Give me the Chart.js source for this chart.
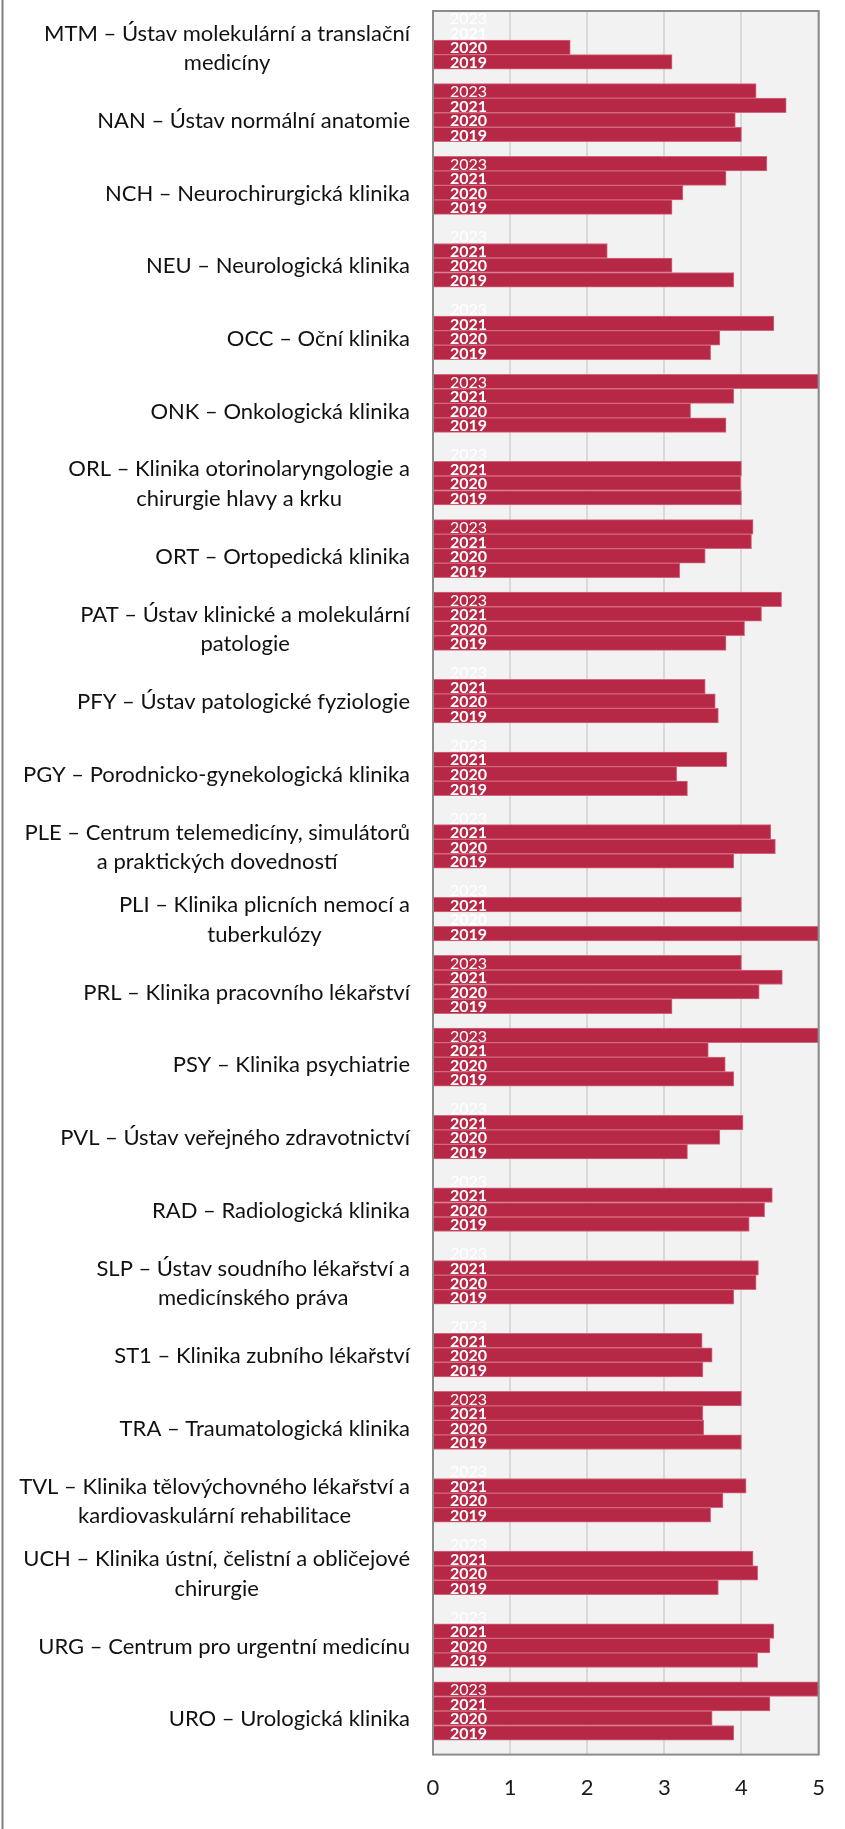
<!DOCTYPE html>
<html>
<head>
<meta charset="utf-8">
<script src="https://cdn.jsdelivr.net/npm/chart.js@4/dist/chart.umd.min.js"></script>
<style>
html,body{margin:0;padding:0;background:#fff;}
canvas{display:block;}
</style>
</head>
<body>
<canvas id="c" width="845" height="1829"></canvas>
<script>
const categories = [
  ['MTM – Ústav molekulární a translační', 'medicíny'],
  ['NAN – Ústav normální anatomie'],
  ['NCH – Neurochirurgická klinika'],
  ['NEU – Neurologická klinika'],
  ['OCC – Oční klinika'],
  ['ONK – Onkologická klinika'],
  ['ORL – Klinika otorinolaryngologie a', 'chirurgie hlavy a krku'],
  ['ORT – Ortopedická klinika'],
  ['PAT – Ústav klinické a molekulární', 'patologie'],
  ['PFY – Ústav patologické fyziologie'],
  ['PGY – Porodnicko-gynekologická klinika'],
  ['PLE – Centrum telemedicíny, simulátorů', 'a praktických dovedností'],
  ['PLI – Klinika plicních nemocí a', 'tuberkulózy'],
  ['PRL – Klinika pracovního lékařství'],
  ['PSY – Klinika psychiatrie'],
  ['PVL – Ústav veřejného zdravotnictví'],
  ['RAD – Radiologická klinika'],
  ['SLP – Ústav soudního lékařství a', 'medicínského práva'],
  ['ST1 – Klinika zubního lékařství'],
  ['TRA – Traumatologická klinika'],
  ['TVL – Klinika tělovýchovného lékařství a', 'kardiovaskulární rehabilitace'],
  ['UCH – Klinika ústní, čelistní a obličejové', 'chirurgie'],
  ['URG – Centrum pro urgentní medicínu'],
  ['URO – Urologická klinika']
];

const years = ['2023', '2021', '2020', '2019'];

const values2023 = [null, 4.19, 4.33, null, null, 5.00, null, 4.15, 4.52, null, null, null,
                    null, 4.00, 5.00, null, null, null, null, 4.00, null, null, null, 5.00];
const values2021 = [null, 4.58, 3.80, 2.26, 4.42, 3.90, 4.00, 4.13, 4.26, 3.53, 3.81, 4.38,
                    4.00, 4.53, 3.57, 4.02, 4.40, 4.22, 3.49, 3.50, 4.06, 4.15, 4.42, 4.37];
const values2020 = [1.78, 3.92, 3.24, 3.10, 3.72, 3.34, 3.99, 3.53, 4.04, 3.66, 3.16, 4.44,
                    null, 4.23, 3.79, 3.72, 4.30, 4.19, 3.62, 3.51, 3.76, 4.21, 4.37, 3.62];
const values2019 = [3.10, 4.00, 3.10, 3.90, 3.60, 3.80, 4.00, 3.20, 3.80, 3.70, 3.30, 3.90,
                    5.00, 3.10, 3.90, 3.30, 4.10, 3.90, 3.50, 4.00, 3.60, 3.70, 4.21, 3.90];
const spacer = categories.map(() => null);

const xTicks = [0, 1, 2, 3, 4, 5];

const BAR = '#b62846';
const BAR_EDGE = '#d3677c';

function ds(label, data, bold) {
  return {
    label: label, data: data, bold: bold,
    backgroundColor: BAR, borderColor: BAR_EDGE, borderWidth: 1,
    barPercentage: 1.0, categoryPercentage: 1.0
  };
}

const framePlugin = {
  id: 'frame',
  beforeDraw(chart) {
    const {ctx, chartArea: a} = chart;
    ctx.save();
    ctx.fillStyle = '#f2f2f2';
    ctx.fillRect(a.left, a.top, a.right - a.left, a.bottom - a.top);
    ctx.restore();
  },
  afterDatasetsDraw(chart) {
    const {ctx, chartArea: a} = chart;
    const xs = chart.scales.x;
    const ys = chart.scales.y;
    ctx.save();
    // in-bar year labels
    ctx.fillStyle = '#ffffff';
    ctx.textAlign = 'left';
    ctx.textBaseline = 'middle';
    const x0 = xs.getPixelForValue(0) + 17;
    chart.data.datasets.forEach((d, di) => {
      if (!d.label) return;
      const meta = chart.getDatasetMeta(di);
      ctx.font = (d.bold ? 'bold ' : '') + '16px Lato';
      meta.data.forEach((el, i) => {
        let y = el.y;
        if (!isFinite(y)) {
          const band = ys.getPixelForValue(1) - ys.getPixelForValue(0);
          y = ys.getPixelForValue(i) - band / 2 + band / 5 * (di + 0.5);
        }
        ctx.fillText(d.label, x0, y + 1);
      });
    });
    // plot border
    ctx.strokeStyle = '#8c8c8c';
    ctx.lineWidth = 2;
    ctx.strokeRect(a.left, a.top, a.right - a.left, a.bottom - a.top);
    ctx.restore();
  },
  afterDraw(chart) {
    const ctx = chart.ctx;
    const ys = chart.scales.y;
    ctx.save();
    // category labels: block right-aligned, lines centered within block
    ctx.font = '22px Lato';
    ctx.fillStyle = '#111111';
    ctx.textAlign = 'center';
    ctx.textBaseline = 'alphabetic';
    const rightEdge = ys.right - 23;
    const lh = 29.5;
    chart.data.labels.forEach((lines, i) => {
      const cy = ys.getPixelForValue(i);
      const w = Math.max(...lines.map(l => ctx.measureText(l).width));
      const cx = rightEdge - w / 2;
      lines.forEach((l, k) => {
        const by = cy + 8 + (k - (lines.length - 1) / 2) * lh;
        ctx.fillText(l, cx, by);
      });
    });
    // outer left frame line
    ctx.fillStyle = '#7f7f7f';
    ctx.fillRect(1.5, 0, 2, chart.height);
    ctx.restore();
  }
};

new Chart(document.getElementById('c'), {
  type: 'bar',
  data: {
    labels: categories,
    datasets: [
      ds(years[0], values2023, false),
      ds(years[1], values2021, true),
      ds(years[2], values2020, true),
      ds(years[3], values2019, true),
      ds('', spacer, false)
    ]
  },
  options: {
    indexAxis: 'y',
    responsive: false,
    animation: false,
    devicePixelRatio: 1,
    layout: { padding: { top: 11, right: 25, bottom: 8, left: 0 } },
    plugins: { legend: { display: false }, tooltip: { enabled: false } },
    scales: {
      x: {
        min: xTicks[0], max: xTicks[xTicks.length - 1],
        afterBuildTicks(scale) { scale.ticks = xTicks.map(v => ({ value: v })); },
        grid: { color: '#d9d9d9', lineWidth: 2, drawTicks: false },
        border: { display: false },
        ticks: { font: { family: 'Lato', size: 22 }, color: '#1a1a1a', padding: 20 }
      },
      y: {
        grid: { display: false },
        border: { display: false },
        ticks: { display: false },
        afterFit(scale) { scale.width = 433; }
      }
    }
  },
  plugins: [framePlugin]
});
</script>
</body>
</html>
